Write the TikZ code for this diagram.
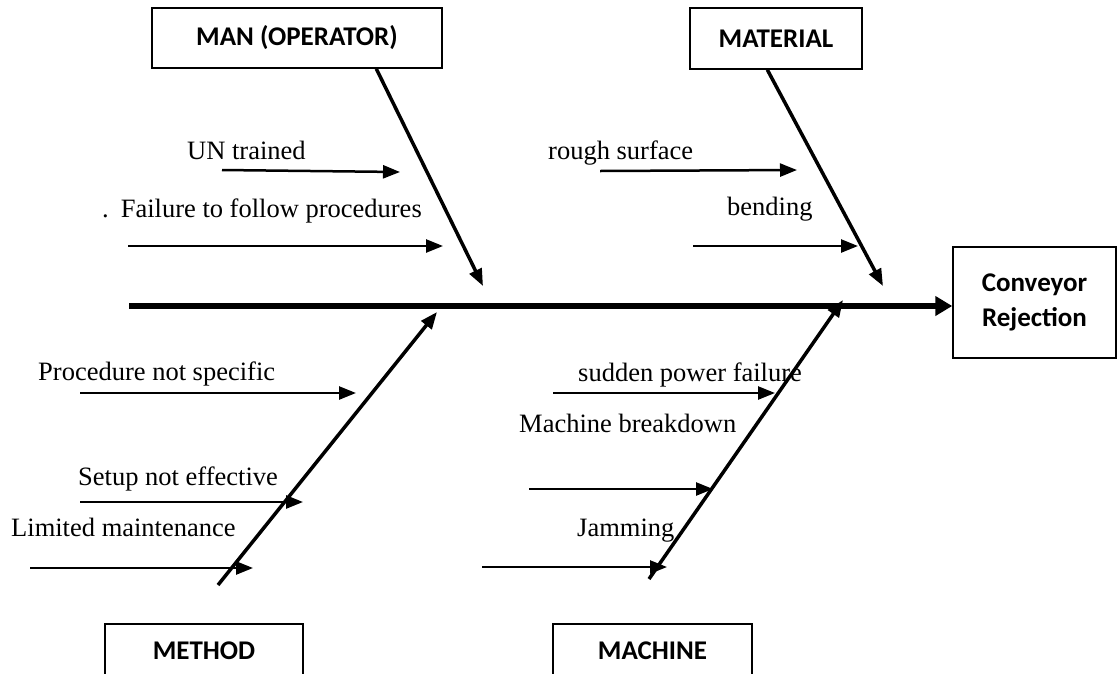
\documentclass[tikz,border=0pt]{standalone}
\usepackage{fontspec}
\setmainfont{Liberation Serif}
\newfontfamily\labelfont{Carlito}
\usetikzlibrary{arrows.meta,calc}
\begin{document}
\begin{tikzpicture}[x=1pt,y=-1pt,
  cause/.style={font=\fontsize{26.5}{30}\selectfont, anchor=base west, inner sep=0pt},
  catbox/.style={draw, line width=1.5pt, font=\labelfont\bfseries\fontsize{27}{35}\selectfont, inner sep=0pt, align=center},
  sub/.style={line width=2.5pt, -{Triangle[length=17pt,width=13pt]}},
  bone/.style={line width=3.5pt, -{Triangle[length=17pt,width=13pt]}},
  spine/.style={line width=6pt, -{Triangle[length=17pt,width=19pt]}}]
\clip (0,0) rectangle (1117,673);
\fill[white] (0,0) rectangle (1117,673);

% category boxes
\node[catbox, minimum width=290pt, minimum height=60pt] (man) at (297,38) {MAN (OPERATOR)};
\node[catbox, minimum width=172pt, minimum height=61pt] (mat) at (776,38.5) {MATERIAL};
\node[catbox, minimum width=198pt, minimum height=54pt, anchor=north] (meth) at (204,623) {METHOD};
\node[catbox, minimum width=199pt, minimum height=54pt, anchor=north] (mach) at (652.5,623) {MACHINE};
\node[catbox, minimum width=163pt, minimum height=111pt] (conv) at (1034.5,302.5) {Conveyor\\Rejection};

% spine
\coordinate (tail) at (129,306);
\draw[spine] (tail) -- (tail -| conv.west);

% bones
\coordinate (manS) at ($(man.south east)!0.228!(man.south west)$);
\coordinate (manE) at (483,286);
\draw[bone] (manS) -- (manE);
\coordinate (matS) at ($(mat.south east)!0.55!(mat.south west)$);
\coordinate (matE) at (883,286);
\draw[bone] (matS) -- (matE);
\coordinate (methS) at (218,585);
\coordinate (methE) at (437,312);
\draw[bone] (methS) -- (methE);
\coordinate (machS) at (649,579);
\coordinate (machE) at (843,300);
\draw[bone] (machS) -- (machE);

% cause labels
\node[cause] (t1) at (187,159) {UN trained};
\node[cause] (t2) at (102,217) {.\hspace{12pt}Failure to follow procedures};
\node[cause] (t3) at (548,159) {rough surface};
\node[cause] (t4) at (727,215) {bending};
\node[cause] (t5) at (38,380) {Procedure not specific};
\node[cause] (t6) at (78,485) {Setup not effective};
\node[cause] (t7) at (11,536) {Limited maintenance};
\node[cause] (t8) at (578,381) {sudden power failure};
\node[cause] (t9) at (519,432) {Machine breakdown};
\node[cause] (t10) at (577,536) {Jamming};

% cause arrows
\coordinate (a1s) at (222,170); \coordinate (a1e) at (400,172);
\draw[sub] (a1s) -- (a1e);
\coordinate (a2s) at (128,246); \coordinate (a2e) at (443,246);
\draw[sub] (a2s) -- (a2e);
\coordinate (a3s) at (600,171); \coordinate (a3e) at (797,170);
\draw[sub] (a3s) -- (a3e);
\coordinate (a4s) at (693,246); \coordinate (a4e) at (858,246);
\draw[sub] (a4s) -- (a4e);
\coordinate (a5s) at (80,393); \coordinate (a5e) at (356,393);
\draw[sub] (a5s) -- (a5e);
\coordinate (a6s) at (80,502); \coordinate (a6e) at (303,502);
\draw[sub] (a6s) -- (a6e);
\coordinate (a7s) at (30,568); \coordinate (a7e) at (253,568);
\draw[sub] (a7s) -- (a7e);
\coordinate (a8s) at (553,393); \coordinate (a8e) at (775,393);
\draw[sub] (a8s) -- (a8e);
\coordinate (a9s) at (529,489); \coordinate (a9e) at (713,489);
\draw[sub] (a9s) -- (a9e);
\coordinate (a10s) at (482,567); \coordinate (a10e) at (667,567);
\draw[sub] (a10s) -- (a10e);
\end{tikzpicture}
\end{document}
